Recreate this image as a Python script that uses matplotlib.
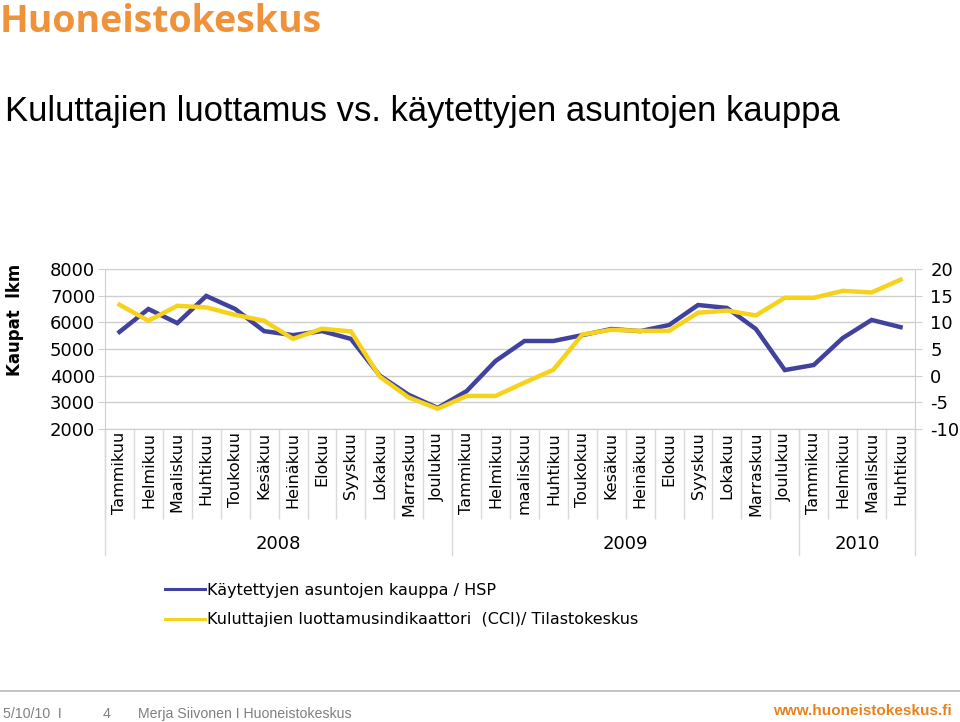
import numpy as np
import matplotlib
matplotlib.use('Agg')
import matplotlib.pyplot as plt
from matplotlib.lines import Line2D

plt.rcParams['axes.unicode_minus'] = False

# months Jan 2008 .. Apr 2010
months = ['Tammikuu', 'Helmikuu', 'Maaliskuu', 'Huhtikuu', 'Toukokuu', 'Kesäkuu',
          'Heinäkuu', 'Elokuu', 'Syyskuu', 'Lokakuu', 'Marraskuu', 'Joulukuu',
          'Tammikuu', 'Helmikuu', 'maaliskuu', 'Huhtikuu', 'Toukokuu', 'Kesäkuu',
          'Heinäkuu', 'Elokuu', 'Syyskuu', 'Lokakuu', 'Marraskuu', 'Joulukuu',
          'Tammikuu', 'Helmikuu', 'Maaliskuu', 'Huhtikuu']
years = ['2008', '2009', '2010']
year_len = [12, 12, 4]

# kauppa (lkm), left axis
kauppa = [5640, 6500, 5970, 6990, 6500, 5670, 5520, 5670, 5380, 4000, 3280, 2790,
          3420, 4550, 5300, 5300, 5520, 5750, 5670, 5900, 6650, 6540, 5750, 4210,
          4400, 5410, 6090, 5820]
# CCI, right axis
cci = [13.3, 10.3, 13.1, 12.8, 11.4, 10.3, 6.9, 8.8, 8.3, -0.2, -4.1, -6.2,
       -3.8, -3.8, -1.3, 1.1, 7.7, 8.6, 8.4, 8.4, 11.8, 12.2, 11.3, 14.6,
       14.6, 15.9, 15.6, 18.0]

lbl_kauppa = 'Käytettyjen asuntojen kauppa / HSP'
lbl_cci = 'Kuluttajien luottamusindikaattori  (CCI)/ Tilastokeskus'

blue = '#41419E'
yellow = '#F6D21A'
orange = '#F0923A'
grid = '#CFCFCF'

fig = plt.figure(figsize=(9.6, 7.22), dpi=100)
ax = fig.add_axes([105/960, 1-429/722, 810/960, 160/722])
x = np.arange(len(months))

ax.plot(x, kauppa, color=blue, lw=3.2, solid_joinstyle='miter')
ax.set_xlim(-0.5, len(months)-0.5)
ax.set_ylim(2000, 8000)
ax.set_yticks(np.arange(2000, 8001, 1000))
ax.yaxis.grid(True, color=grid, lw=1)
ax.set_axisbelow(True)
for s in ['top', 'right']:
    ax.spines[s].set_visible(False)
for s in ['left', 'bottom']:
    ax.spines[s].set_color(grid)
ax.tick_params(axis='y', labelsize=13, length=5, color=grid, pad=2)

ax.set_xticks(x)
ax.set_xticklabels(months, rotation=90, fontsize=11.5, va='top')
ax.tick_params(axis='x', which='major', length=0, pad=2)
ax.set_xticks(np.arange(-0.5, len(months), 1), minor=True)
ax.tick_params(axis='x', which='minor', length=65, color='#DADADA', width=1)

ax2 = ax.twinx()
ax2.plot(x, cci, color=yellow, lw=3.2, solid_joinstyle='miter')
ax2.set_ylim(-10, 20)
ax2.set_yticks(np.arange(-10, 21, 5))
for s in ['top', 'left', 'bottom']:
    ax2.spines[s].set_visible(False)
ax2.spines['right'].set_color(grid)
ax2.tick_params(axis='y', labelsize=13, length=5, color=grid, pad=6)

# year row
tr = ax.get_xaxis_transform()
start = -0.5
bounds = [start]
for yr, n in zip(years, year_len):
    ax.text(start + n/2, -115/160, yr, transform=tr, ha='center', va='center', fontsize=13)
    start += n
    bounds.append(start)
for b in bounds:
    ax.plot([b, b], [0, -126/160], transform=tr, color='#DADADA', lw=1, clip_on=False)

fig.text(15/960, 1-320/722, 'Kaupat  lkm', fontsize=12, fontweight='bold',
         rotation=90, ha='center', va='center')

# legend
handles = [Line2D([], [], color=blue, lw=2.2), Line2D([], [], color=yellow, lw=2.2)]
fig.legend(handles, [lbl_kauppa, lbl_cci], loc='upper left',
           bbox_to_anchor=(165/960, 1-583/722), borderaxespad=0, borderpad=0,
           frameon=False, fontsize=11.5, handlelength=2.5, handletextpad=0.15,
           labelspacing=0.9)

# header
fig.text(0/960, 1-32/722, 'Huoneistokeskus', color=orange, fontsize=27,
         fontweight='bold', family='Open Sans', va='baseline', ha='left')
fig.text(5/960, 1-112/722, 'Kuluttajien luottamus vs. käytettyjen asuntojen kauppa',
         fontsize=24.9, family='Liberation Sans', va='center', ha='left')

# footer
fig.add_artist(Line2D([0, 1], [1-691/722]*2, color='#BBBBBB', lw=1.2))
for fx, ft in [(3, '5/10/10  I'), (103, '4'), (138, 'Merja Siivonen I Huoneistokeskus')]:
    fig.text(fx/960, 1-714/722, ft, color='#808080', fontsize=10.2,
             family='Liberation Sans', va='center', ha='left')
fig.text(952/960, 1-711/722, 'www.huoneistokeskus.fi', color='#E8821E', fontsize=11,
         fontweight='bold', family='Liberation Sans', va='center', ha='right')

fig.savefig('out.png', dpi=100)
